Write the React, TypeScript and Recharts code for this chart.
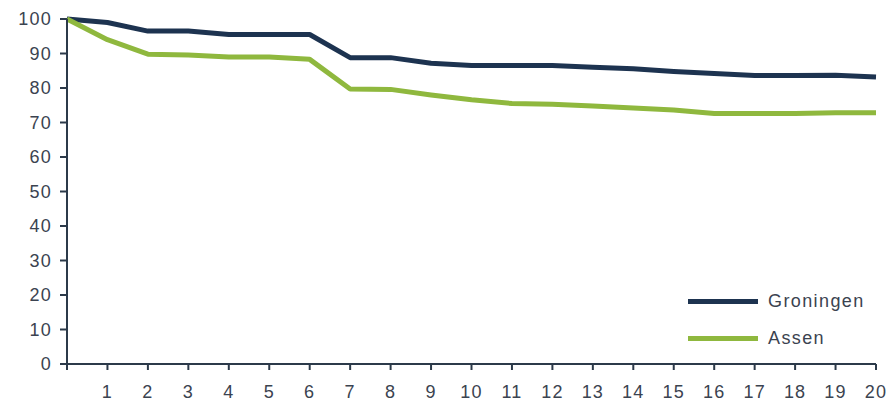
import { LineChart, Line, XAxis, YAxis, Legend } from "recharts";

const years = [0, 1, 2, 3, 4, 5, 6, 7, 8, 9, 10, 11, 12, 13, 14, 15, 16, 17, 18, 19, 20];
const groningen = [100, 99, 96.5, 96.5, 95.5, 95.5, 95.5, 88.8, 88.8, 87.2, 86.5, 86.5, 86.5, 86, 85.6, 84.8, 84.2, 83.6, 83.6, 83.7, 83.2];
const assen = [100, 94, 89.8, 89.6, 89, 89, 88.3, 79.7, 79.6, 78, 76.6, 75.5, 75.3, 74.8, 74.2, 73.6, 72.6, 72.6, 72.6, 72.8, 72.8];
const yTicks = [0, 10, 20, 30, 40, 50, 60, 70, 80, 90, 100];
const seriesOrder = ["Groningen", "Assen"];

const data = years.map((y, i) => ({ year: y, Groningen: groningen[i], Assen: assen[i] }));

const FONT = "'Liberation Sans', Arial, sans-serif";
const AXIS = "#2c3a4a";
const TEXT = "#3b4350";

const renderLegend = (props: any) => {
  const items = [...(props.payload || [])].sort(
    (a: any, b: any) => seriesOrder.indexOf(a.value) - seriesOrder.indexOf(b.value)
  );
  return (
    <div style={{ fontFamily: FONT }}>
      {items.map((entry: any) => (
        <div key={entry.value} style={{ display: "flex", alignItems: "center", height: 37 }}>
          <div style={{ width: 70, height: 5, background: entry.color, marginRight: 10 }} />
          <span style={{ fontSize: 18, letterSpacing: 1.4, color: TEXT }}>{entry.value}</span>
        </div>
      ))}
    </div>
  );
};

export default function App() {
  return (
    <div style={{ position: "absolute", left: 0, top: 0, background: "#fff" }}>
      <LineChart width={888} height={402} data={data} margin={{ top: 19, right: 12, left: 0, bottom: 8 }}>
        <XAxis
          dataKey="year"
          type="number"
          domain={[0, 20]}
          ticks={years}
          tickFormatter={(v: number) => (v === 0 ? "" : String(v))}
          height={30}
          stroke={AXIS}
          strokeWidth={2}
          tickSize={6}
          tickMargin={15}
          tick={{ fill: TEXT, fontSize: 18, fontFamily: FONT, letterSpacing: 1.2 }}
        />
        <YAxis
          domain={[0, 100]}
          ticks={yTicks}
          width={67}
          stroke={AXIS}
          strokeWidth={2}
          tickSize={7}
          tickMargin={8}
          tick={{ fill: TEXT, fontSize: 18, fontFamily: FONT, letterSpacing: 1.2 }}
        />
        <Legend
          layout="vertical"
          align="center"
          verticalAlign="middle"
          content={renderLegend}
          wrapperStyle={{ position: "absolute", left: 688, top: 283, width: 200 }}
        />
        <Line
          dataKey="Groningen"
          stroke="#1d3350"
          strokeWidth={5}
          dot={false}
          strokeLinejoin="round"
          isAnimationActive={false}
        />
        <Line
          dataKey="Assen"
          stroke="#8fb83e"
          strokeWidth={5}
          dot={false}
          strokeLinejoin="round"
          isAnimationActive={false}
        />
      </LineChart>
    </div>
  );
}
